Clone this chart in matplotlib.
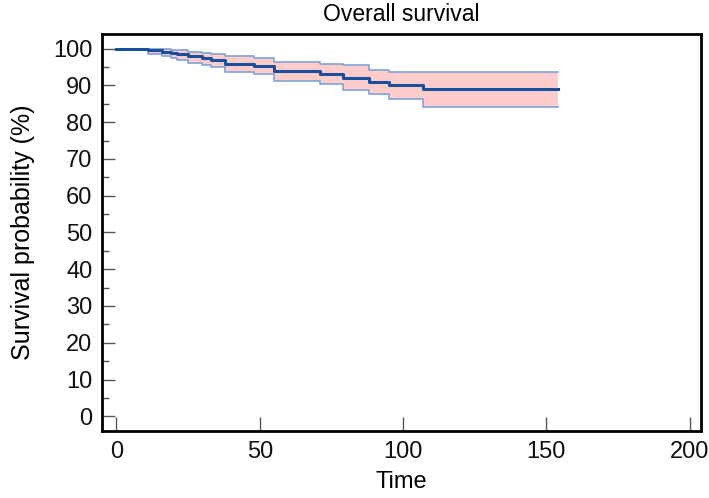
import matplotlib.pyplot as plt
import numpy as np

# Kaplan-Meier estimate (step start times)
step_times = [0, 11, 16, 19, 21, 25, 30, 33, 38, 48, 55, 71, 79, 88, 95, 107]
surv = [100, 99.5, 99.2, 98.9, 98.5, 97.9, 97.4, 96.9, 95.8, 95.3, 93.8, 93.1, 92.0, 90.9, 90.2, 88.9]
upper = [100, 100, 99.9, 99.7, 99.5, 99.1, 98.8, 98.5, 97.9, 97.5, 96.3, 95.9, 95.4, 94.2, 93.5, 93.7]
lower = [100, 98.5, 98.0, 97.5, 97.0, 96.2, 95.6, 95.0, 93.6, 93.0, 91.2, 90.3, 88.8, 87.6, 86.2, 84.2]
end_time = 154

xticks = [0, 50, 100, 150, 200]
yticks = list(range(0, 101, 10))


def main():
    plt.rcParams['font.family'] = ['Liberation Sans', 'DejaVu Sans']
    fig = plt.figure(figsize=(7.09, 4.98), dpi=100)
    ax = fig.add_axes([0.144, 0.1345, 0.845, 0.7975])

    t = np.array(step_times + [end_time])
    s = np.array(surv + [surv[-1]])
    up = np.array(upper + [upper[-1]])
    lo = np.array(lower + [lower[-1]])

    ax.fill_between(t, lo, up, step='post', color='#ffcccc', linewidth=0)
    ax.step(t, up, where='post', color='#7fa3d6', linewidth=1.2)
    ax.step(t, lo, where='post', color='#7fa3d6', linewidth=1.2)
    ax.step(t, s, where='post', color='#1a4f9c', linewidth=2.2)

    ax.set_xlim(-5, 204)
    ax.set_ylim(-4, 104)
    ax.set_xticks(xticks)
    ax.set_yticks(yticks)
    ax.set_yticks(np.arange(5, 100, 10), minor=True)
    ax.tick_params(axis='both', which='major', labelsize=17)
    ax.tick_params(axis='y', which='major', direction='in', length=9, width=1, color='#555555', pad=7)
    ax.tick_params(axis='y', which='minor', direction='in', length=5, width=1, color='#555555')
    ax.tick_params(axis='x', which='major', direction='in', length=10, width=1, color='#555555', pad=7)
    ax.tick_params(labelcolor='#111111')

    for sp in ['top', 'right', 'bottom', 'left']:
        ax.spines[sp].set_linewidth(2)
        ax.spines[sp].set_color('black')

    ax.set_title('Overall survival', fontsize=16.5, pad=9)
    ax.set_xlabel('Time', fontsize=17, labelpad=6)
    ax.set_ylabel('Survival probability (%)', fontsize=18, labelpad=13)

    fig.savefig('out.png', dpi=100)


if __name__ == "__main__":
    main()
